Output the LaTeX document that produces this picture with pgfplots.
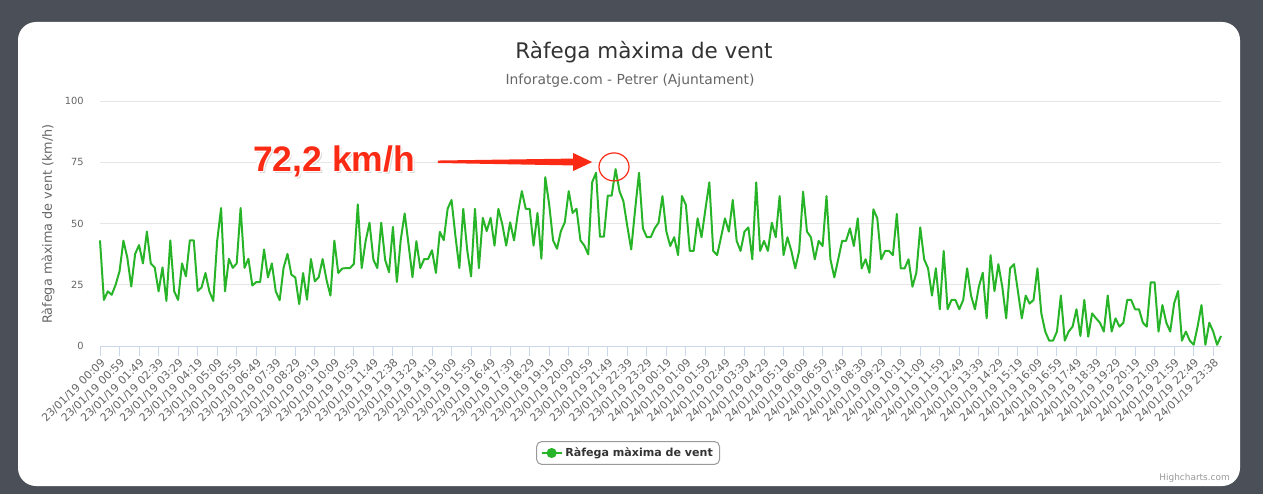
\documentclass[border=0pt]{standalone}
\usepackage{fontspec}
\setmainfont{DejaVu Sans}
\newfontfamily\annfont{Liberation Sans}
\usepackage{pgfplots}
\usepackage{pgfplotstable}
\pgfplotsset{compat=1.18}
\definecolor{bgdark}{HTML}{4B4F57}
\definecolor{tcol}{HTML}{333333}
\definecolor{lcol}{HTML}{666666}
\definecolor{gridc}{HTML}{E6E6E6}
\definecolor{axc}{HTML}{CCD6EB}
\definecolor{serc}{HTML}{28B428}
\definecolor{annred}{HTML}{FA2A14}
\definecolor{credc}{HTML}{999999}

\pgfplotstableread{
x y
0 43.1
1 18.8
2 22.3
3 20.9
4 25.0
5 30.5
6 43.0
7 36.0
8 24.3
9 37.6
10 41.2
11 33.7
12 46.7
13 33.7
14 32.1
15 22.3
16 32.1
17 18.4
18 43.1
19 22.3
20 18.8
21 33.7
22 28.4
23 43.1
24 43.1
25 22.5
26 23.9
27 29.8
28 22.3
29 18.4
30 42.9
31 56.3
32 22.3
33 35.6
34 31.9
35 33.7
36 56.3
37 31.9
38 35.6
39 24.7
40 26.1
41 26.1
42 39.4
43 28.0
44 33.7
45 22.3
46 18.7
47 31.9
48 37.6
49 29.1
50 28.0
51 17.1
52 29.8
53 18.9
54 35.5
55 26.4
56 28.1
57 35.5
58 27.0
59 20.6
60 43.0
61 29.8
62 31.6
63 31.8
64 31.8
65 33.5
66 57.8
67 31.8
68 42.8
69 50.3
70 35.2
71 31.8
72 50.3
73 35.2
74 30.1
75 48.6
76 26.1
77 43.4
78 54.1
79 41.4
80 28.1
81 42.8
82 31.8
83 35.5
84 35.5
85 39.1
86 29.8
87 46.6
88 43.2
89 56.0
90 59.6
91 44.8
92 31.8
93 56.0
94 39.3
95 28.4
96 56.0
97 31.8
98 52.3
99 46.9
100 52.3
101 41.0
102 56.0
103 49.6
104 41.0
105 50.5
106 43.1
107 54.3
108 63.2
109 56.0
110 56.0
111 41.0
112 54.3
113 35.6
114 68.9
115 57.7
116 43.1
117 39.7
118 46.9
119 50.5
120 63.2
121 54.3
122 56.0
123 43.1
124 41.0
125 37.4
126 66.8
127 70.7
128 44.6
129 44.6
130 61.4
131 61.4
132 72.2
133 63.2
134 59.1
135 48.9
136 39.4
137 55.7
138 70.7
139 48.0
140 44.4
141 44.4
142 48.0
143 50.3
144 61.2
145 46.7
146 40.8
147 44.4
148 37.1
149 61.2
150 57.6
151 38.8
152 38.8
153 52.1
154 44.4
155 55.8
156 66.8
157 38.8
158 37.1
159 44.4
160 52.1
161 46.7
162 59.6
163 42.9
164 38.8
165 46.7
166 48.4
167 35.4
168 66.8
169 38.8
170 42.9
171 38.8
172 50.3
173 44.4
174 61.2
175 37.1
176 44.4
177 38.8
178 31.7
179 38.8
180 63.0
181 46.7
182 44.4
183 35.4
184 42.9
185 40.8
186 61.2
187 35.4
188 28.0
189 35.4
190 42.9
191 42.9
192 48.0
193 40.8
194 52.1
195 31.7
196 35.4
197 29.9
198 55.8
199 52.1
200 35.4
201 38.8
202 38.8
203 37.1
204 53.9
205 31.7
206 31.7
207 35.4
208 24.2
209 29.9
210 48.4
211 35.4
212 31.7
213 20.6
214 31.7
215 15.0
216 38.8
217 15.0
218 18.8
219 18.8
220 15.0
221 18.8
222 31.7
223 20.6
224 15.0
225 24.2
226 29.9
227 11.3
228 37.1
229 22.4
230 33.4
231 24.2
232 11.3
233 31.7
234 33.4
235 22.4
236 11.3
237 20.6
238 17.3
239 18.8
240 31.7
241 13.3
242 5.9
243 2.2
244 2.2
245 5.9
246 20.6
247 2.2
248 5.9
249 7.9
250 15.0
251 4.1
252 18.8
253 3.8
254 13.3
255 11.3
256 9.5
257 5.9
258 20.6
259 5.9
260 11.3
261 7.9
262 9.5
263 18.8
264 18.8
265 15.0
266 15.0
267 9.5
268 7.9
269 26.0
270 26.0
271 5.9
272 16.7
273 9.5
274 5.9
275 17.4
276 22.4
277 2.2
278 5.9
279 2.2
280 0.5
281 7.9
282 16.7
283 0.5
284 9.5
285 5.9
286 0.5
287 4.1
}\gusts

\begin{document}
\begin{tikzpicture}[x=0.75pt,y=0.75pt]
\useasboundingbox (0,0) rectangle (1263,494);
\fill[bgdark] (0,0) rectangle (1263,494);
\fill[white, rounded corners=13.5pt] (18,8) rectangle (1240,472);
\node[font=\fontsize{16.1}{19}\selectfont, text=tcol] at (644,442) {Ràfega màxima de vent};
\node[font=\fontsize{10.4}{12}\selectfont, text=lcol] at (630,413) {Inforatge.com - Petrer (Ajuntament)};
\node[font=\fontsize{9.6}{11}\selectfont, text=lcol, rotate=90] at (48,270) {Ràfega màxima de vent (km/h)};
\node[font=\fontsize{6.7}{8}\selectfont, text=credc, anchor=east, inner sep=0pt] at (1230,16) {Highcharts.com};

\begin{axis}[
  at={(75pt,111pt)}, anchor=south west,
  scale only axis, width=840.75pt, height=183.75pt,
  xmin=0, xmax=287, ymin=0, ymax=100,
  axis x line*=bottom, axis y line*=left,
  x axis line style={draw=axc, line width=0.75pt},
  y axis line style={draw=none},
  ytick={0,25,50,75,100},
  xtick={0,5,...,285},
  xticklabels={23/01/19 00:09,23/01/19 00:59,23/01/19 01:49,23/01/19 02:39,23/01/19 03:29,23/01/19 04:19,23/01/19 05:09,23/01/19 05:59,23/01/19 06:49,23/01/19 07:39,23/01/19 08:29,23/01/19 09:19,23/01/19 10:09,23/01/19 10:59,23/01/19 11:49,23/01/19 12:38,23/01/19 13:29,23/01/19 14:19,23/01/19 15:09,23/01/19 15:59,23/01/19 16:49,23/01/19 17:39,23/01/19 18:29,23/01/19 19:19,23/01/19 20:09,23/01/19 20:59,23/01/19 21:49,23/01/19 22:39,23/01/19 23:29,24/01/19 00:19,24/01/19 01:09,24/01/19 01:59,24/01/19 02:49,24/01/19 03:39,24/01/19 04:29,24/01/19 05:19,24/01/19 06:09,24/01/19 06:59,24/01/19 07:49,24/01/19 08:39,24/01/19 09:29,24/01/19 10:19,24/01/19 11:09,24/01/19 11:59,24/01/19 12:49,24/01/19 13:39,24/01/19 14:29,24/01/19 15:19,24/01/19 16:09,24/01/19 16:59,24/01/19 17:49,24/01/19 18:39,24/01/19 19:29,24/01/19 20:19,24/01/19 21:09,24/01/19 21:59,24/01/19 22:49,24/01/19 23:38},
  tick align=outside,
  major tick length=7.5pt,
  xtick style={draw=axc, line width=0.75pt},
  ytick style={draw=none},
  ymajorgrids, grid style={draw=gridc, line width=0.75pt},
  /pgf/number format/assume math mode=true,
  yticklabel style={font=\fontsize{7.4}{9}\selectfont, text=lcol, anchor=east, inner sep=0pt, xshift=-4.5pt},
  xticklabel style={font=\fontsize{8.2}{9.5}\selectfont, text=lcol, inner sep=0pt, yshift=-1pt, rotate=45, anchor=north east},
  clip=false,
  legend style={at={(axis description cs:0.4711,-0.4367)}, anchor=center,
    draw=credc, line width=0.75pt, rounded corners=3.75pt, fill=white,
    font=\bfseries\fontsize{8.3}{10}\selectfont, text=tcol,
    inner xsep=3pt, inner ysep=2.5pt},
  legend cell align=left,
  legend image code/.code={%
    \draw[serc, line width=1.5pt] (0pt,0pt) -- (15pt,0pt);
    \fill[serc] (7.5pt,0pt) circle (3pt);},
]
\addplot[serc, line width=1.5pt, no marks, line join=round] table[x=x,y=y]{\gusts};
\addlegendentry{Ràfega màxima de vent}
% annotation arrow and circle
\fill[annred] (axis cs:86.5,75.7) -- (axis cs:121.1,76.5) -- (axis cs:121.1,78.8) -- (axis cs:126.0,75.1) -- (axis cs:121.1,71.4) -- (axis cs:121.1,73.7) -- (axis cs:86.5,74.7) -- cycle;
\draw[annred, line width=0.9pt] (axis cs:131.6,73.1) ellipse [x radius=11.25pt, y radius=10.5pt];
\end{axis}

\foreach \a in {0,30,...,330} {
  \node[font=\annfont\bfseries\fontsize{26.6}{30}\selectfont, text=white, shift={(\a:2.2)}] at (334,333) {72,2 km/h};
}
\node[font=\annfont\bfseries\fontsize{26.6}{30}\selectfont, text=black!15, shift={(2,-2)}] at (334,333) {72,2 km/h};
\foreach \a in {0,45,...,315} {
  \node[font=\annfont\bfseries\fontsize{26.6}{30}\selectfont, text=white, shift={(\a:1.4)}] at (334,333) {72,2 km/h};
}
\node[font=\annfont\bfseries\fontsize{26.6}{30}\selectfont, text=annred] at (334,333) {72,2 km/h};
\end{tikzpicture}
\end{document}
